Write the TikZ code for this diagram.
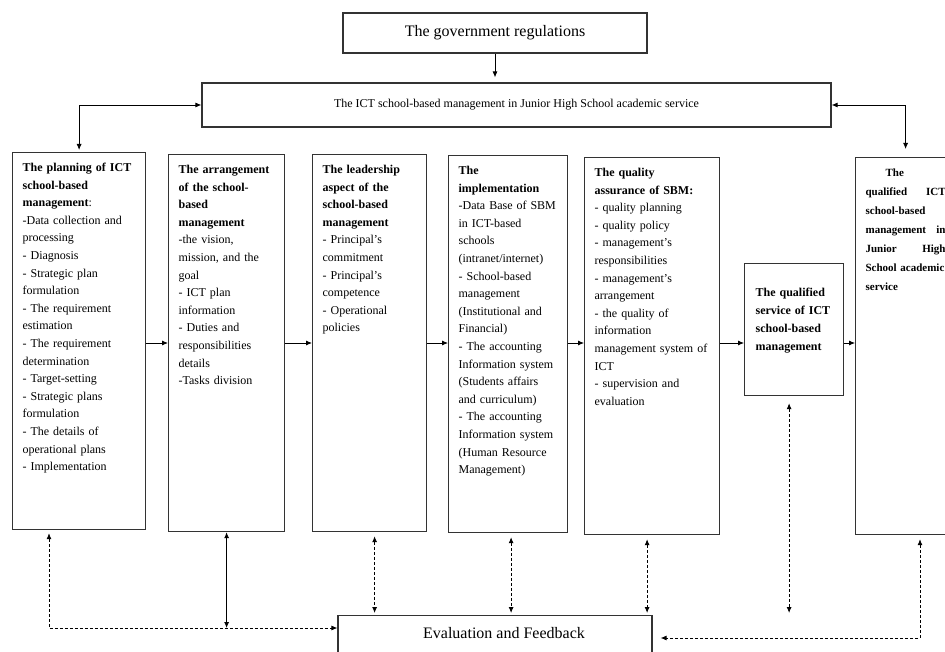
\documentclass[tikz,border=0pt]{standalone}
\usepackage{fontspec}
\setmainfont{Liberation Serif}
\usetikzlibrary{arrows.meta}

\tikzset{
	>={Latex[length=6pt,width=5pt]},
	box/.style={draw=black!80, line width=1.2pt, fill=white},
	stage/.style={box, anchor=north west, align=left, inner xsep=10pt, inner ysep=6pt, text height=13pt, text depth=352pt, font=\fontsize{12}{17.6}\selectfont},
	fb/.style={line width=0.8pt, dash pattern=on 3pt off 2pt},
}

\begin{document}
\begin{tikzpicture}[x=1pt,y=-1pt]
	\useasboundingbox (0,0) rectangle (945,652);
	\node[box, minimum width=304pt, minimum height=40pt, font=\fontsize{16}{19}\selectfont] (gov) at (495,33) {The government regulations};
	\node[box, minimum width=629pt, minimum height=44pt, font=\fontsize{12}{14}\selectfont] (ict) at (516.5,105) {The ICT school-based management in Junior High School academic service};
	\node[stage, text width=113pt] (plan) at (12,152) {\textbf{The planning of ICT}\\\textbf{school-based}\\\textbf{management}:\\-Data collection and\\processing\\- Diagnosis\\- Strategic plan\\formulation\\- The requirement\\estimation\\- The requirement\\determination\\- Target-setting\\- Strategic plans\\formulation\\- The details of\\operational plans\\- Implementation};
	\node[stage, text width=96pt] (arr) at (168,154) {\textbf{The arrangement}\\\textbf{of the school-}\\\textbf{based}\\\textbf{management}\\-the vision,\\mission, and the\\goal\\- ICT plan\\information\\- Duties and\\responsibilities\\details\\-Tasks division};
	\node[stage, text width=94pt] (lead) at (312,154) {\textbf{The leadership}\\\textbf{aspect of the}\\\textbf{school-based}\\\textbf{management}\\- Principal's\\commitment\\- Principal's\\competence\\- Operational\\policies};
	\node[stage, text width=99pt] (impl) at (448,155) {\textbf{The}\\\textbf{implementation}\\-Data Base of SBM\\in ICT-based\\schools\\(intranet/internet)\\- School-based\\management\\(Institutional and\\Financial)\\- The accounting\\Information system\\(Students affairs\\and curriculum)\\- The accounting\\Information system\\(Human Resource\\Management)};
	\node[stage, text width=115pt] (qa) at (584,157) {\textbf{The quality}\\\textbf{assurance of SBM:}\\- quality planning\\- quality policy\\- management's\\responsibilities\\- management's\\arrangement\\- the quality of\\information\\management system of\\ICT\\- supervision and\\evaluation};
	\node[stage, text width=77pt, inner xsep=11pt, text height=27pt, text depth=93pt, font=\fontsize{12}{18}\selectfont\bfseries] (svc) at (744,263) {The qualified\\service of ICT\\school-based\\management};
	\node[stage, text width=80pt, font=\fontsize{11}{19}\selectfont\bfseries] (fin) at (855,157) {\hspace*{20pt}The\\qualified\hfill ICT\\school-based\\management\hfill in\\Junior\hfill High\\School academic\\service};
	\node[box, anchor=north, minimum width=314pt, inner ysep=0pt, text height=23pt, text depth=40pt, font=\fontsize{16}{19}\selectfont] (eval) at (495,615) {\hspace*{18pt}Evaluation and Feedback};
	\draw[->, line width=0.8pt, shorten >=5pt] (gov.south) -- (gov.south |- ict.north);
	\draw[<->, line width=0.8pt, shorten >=2pt] (ict.west) -| (plan.north);
	\draw[<->, line width=0.8pt, shorten >=8pt] (ict.east) -| (fin.north);
	\coordinate (row) at (0,343);
	\foreach \a/\b in {plan/arr,arr/lead,lead/impl,impl/qa,qa/svc,svc/fin}
	{
		\draw[->, line width=0.8pt] (\a.east |- row) -- (\b.west |- row);
	}
	\coordinate (fbl) at ([yshift=-13pt]eval.north west);
	\coordinate (fbr) at ([xshift=8pt,yshift=-23pt]eval.north east);
	\coordinate (pl) at ([xshift=37pt]plan.south west);
	\draw[fb, <->, shorten <=3pt] (pl) |- (fbl);
	\draw[<->, line width=0.8pt] (arr.south) -- (arr.south |- fbl);
	\foreach \n/\d in {lead/5,impl/3,qa/-5}
	{
		\coordinate (t) at ([xshift=\d pt]\n.south);
		\draw[fb, <->, shorten <=4pt, shorten >=2pt] (t) -- (t |- eval.north);
	}
	\coordinate (sv) at ([xshift=-5pt]svc.south);
	\draw[fb, <->, shorten <=7pt, shorten >=2pt] (sv) -- (sv |- eval.north);
	\coordinate (fn) at ([xshift=65pt]fin.south west);
	\draw[fb, <->, shorten <=4pt] (fn) |- (fbr);
\end{tikzpicture}
\end{document}
